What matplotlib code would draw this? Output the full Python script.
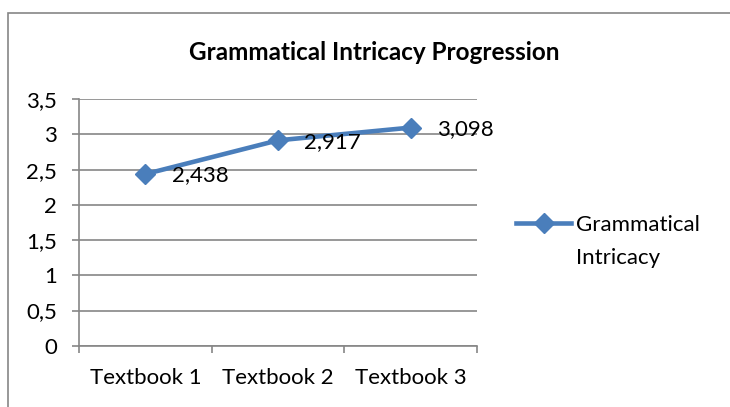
import matplotlib
matplotlib.use("Agg")
import matplotlib.pyplot as plt
import matplotlib.patches as patches
from matplotlib.ticker import FuncFormatter

# chart data
categories = ["Textbook 1", "Textbook 2", "Textbook 3"]
intricacy = [2.438, 2.917, 3.098]
series_name = "Grammatical Intricacy"
title = "Grammatical Intricacy Progression"
y_ticks = [0, 0.5, 1, 1.5, 2, 2.5, 3, 3.5]

plt.rcParams['font.family'] = ['Lato', 'DejaVu Sans']

W, H = 730, 407
fig = plt.figure(figsize=(W / 100, H / 100), dpi=100)

# outer chart border (left and top visible)
fig.add_artist(patches.Rectangle((8 / W, -0.05), 2, 1 - 13 / H + 0.05,
                                 transform=fig.transFigure, fill=False,
                                 edgecolor='#868686', linewidth=1.2))

ax = fig.add_axes([79 / W, (H - 345.7) / H, 398 / W, 246.4 / H])

grid_col = '#868686'
line_col = '#4A7EBB'
fs = 16

first, rest = series_name.split(' ', 1)

x = [i + 0.5 for i in range(len(categories))]
ax.plot(x, intricacy, color=line_col, linewidth=3.3, marker='D',
        markersize=10, markerfacecolor=line_col, markeredgecolor=line_col,
        label=first, zorder=3)

for xi, v in zip(x, intricacy):
    ax.annotate(f"{v:.3f}".replace('.', ','), (xi, v), xytext=(19, -1),
                textcoords='offset points', va='center', ha='left',
                fontsize=fs, color='black', zorder=4)

ax.set_xlim(0, len(categories))
ax.set_ylim(0, 3.5)
ax.set_yticks(y_ticks)
ax.yaxis.set_major_formatter(FuncFormatter(
    lambda v, p: (f"{v:g}").replace('.', ',')))
ax.set_xticks(range(len(categories) + 1))
ax.set_xticklabels([])
ax.set_xticks(x, minor=True)
ax.set_xticklabels(categories, minor=True)
ax.tick_params(axis='x', which='minor', length=0, labelsize=fs, pad=16)
ax.tick_params(axis='x', which='major', length=5, color=grid_col, width=1.2)
ax.tick_params(axis='y', length=5, color=grid_col, width=1.2, labelsize=fs, pad=11)

ax.grid(axis='y', color=grid_col, linewidth=1.2)
ax.set_axisbelow(True)
for s in ['top', 'right']:
    ax.spines[s].set_visible(False)
for s in ['left', 'bottom']:
    ax.spines[s].set_color(grid_col)
    ax.spines[s].set_linewidth(1.2)

fig.text(374 / W, 1 - 52 / H, title, ha='center', va='center',
         fontsize=17.5, fontweight='bold')

leg = ax.legend(loc='center left', bbox_to_anchor=(507 / W, 1 - 225 / H),
                bbox_transform=fig.transFigure, frameon=False, fontsize=fs,
                handlelength=2.5, handletextpad=0.2, borderaxespad=0)

# legend text wraps onto a second line in the original
fig.canvas.draw()
bb = leg.get_texts()[0].get_window_extent()
fig.text(bb.x0 / W, (bb.y0 + bb.y1) / 2 / H - 33 / H, rest,
         ha='left', va='center', fontsize=fs)

fig.savefig("out.png", dpi=100)
